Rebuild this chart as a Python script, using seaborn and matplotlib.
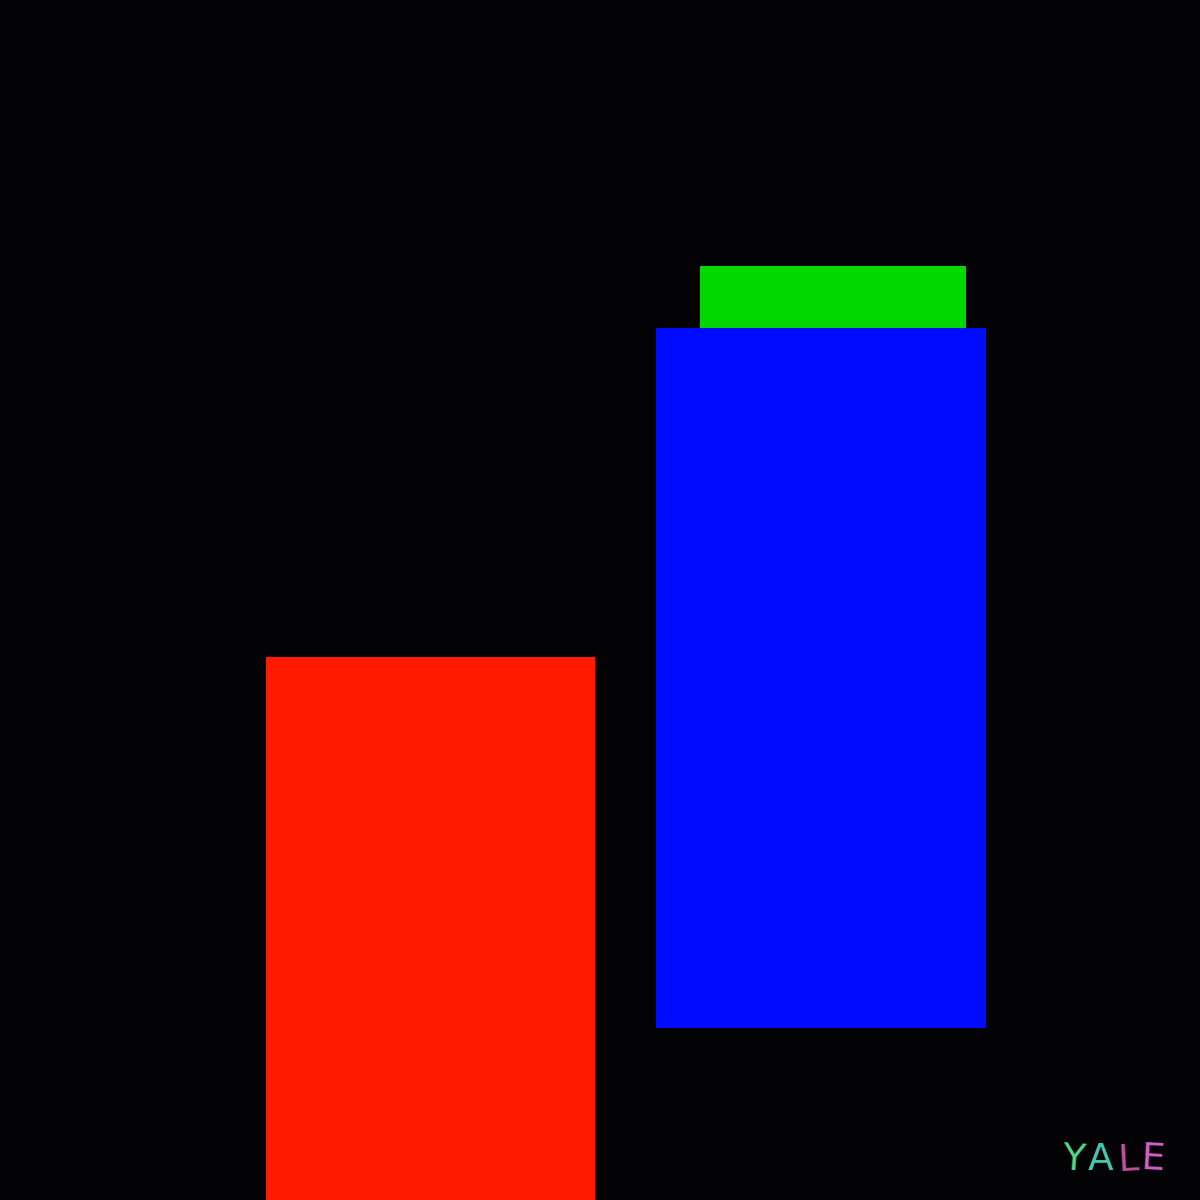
import matplotlib
matplotlib.use("Agg")
import matplotlib.pyplot as plt
import seaborn as sns

# ---------- chart values (pixel-like units, y measured up from the bottom) ----------
block_names = ["red", "blue", "green"]
block_left = [266, 656, 700]
block_right = [595, 986, 966]
block_bottom = [0, 172, 872]
block_top = [543, 872, 934]
block_colors = ["#ff1a00", "#000cff", "#00d800"]

logo_letters = ["Y", "A", "L", "E"]
logo_colors = ["#4fd98a", "#3fc8b0", "#c050a0", "#d060c8"]
logo_x = [1073, 1101, 1128, 1153]
logo_rot = [-4, 0, 3, -3]
BG = "#030205"
# -------------------------------------------------------------------------------------

sns.set_style("dark", {"axes.facecolor": BG, "figure.facecolor": BG})

fig = plt.figure(figsize=(12, 12), dpi=100)
ax = fig.add_axes([0, 0, 1, 1])
ax.set_facecolor(BG)

widths = [r - l for l, r in zip(block_left, block_right)]
heights = [t - b for b, t in zip(block_bottom, block_top)]
ax.bar(block_left, heights, width=widths, bottom=block_bottom, align="edge",
       color=block_colors, linewidth=0)

for ch, c, x, r in zip(logo_letters, logo_colors, logo_x, logo_rot):
    ax.text(x, 40, ch, color=c, fontsize=27, ha="center", va="center",
            family="DejaVu Sans", rotation=r)

ax.set_xlim(0, 1200)
ax.set_ylim(0, 1200)
ax.axis("off")

fig.savefig("out.png", dpi=100, facecolor=BG)
